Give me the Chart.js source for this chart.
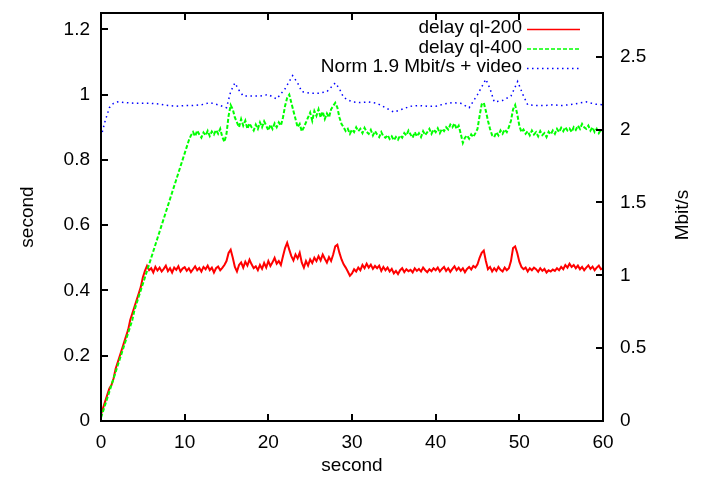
<!DOCTYPE html>
<html>
<head>
<meta charset="utf-8">
<script src="https://cdn.jsdelivr.net/npm/chart.js@4.4.1/dist/chart.umd.min.js"></script>
<style>
  html, body { margin: 0; padding: 0; background: #fff; }
  #wrap { width: 701px; height: 481px; }
</style>
</head>
<body>
<div id="wrap"><canvas id="c" width="701" height="481"></canvas></div>
<script>
// ---- data ----
const sampleStep = 0.25; // seconds between samples of the delay series

const delay200 = [
  0.02,0.04,0.06,0.08,
  0.10,0.11,0.13,0.16,
  0.18,0.20,0.22,0.24,
  0.26,0.28,0.31,0.33,
  0.35,0.37,0.39,0.41,
  0.44,0.46,0.475,0.462,
  0.468,0.455,0.472,0.461,
  0.47,0.458,0.466,0.476,
  0.459,0.468,0.455,0.47,
  0.463,0.474,0.458,0.467,
  0.471,0.46,0.468,0.456,
  0.465,0.474,0.462,0.469,
  0.458,0.472,0.465,0.476,
  0.462,0.47,0.455,0.468,
  0.473,0.462,0.469,0.478,
  0.49,0.515,0.525,0.5,
  0.472,0.458,0.478,0.486,
  0.47,0.488,0.476,0.494,
  0.48,0.468,0.474,0.462,
  0.478,0.466,0.484,0.47,
  0.49,0.475,0.486,0.5,
  0.482,0.49,0.478,0.505,
  0.53,0.546,0.525,0.505,
  0.492,0.51,0.498,0.515,
  0.485,0.47,0.49,0.476,
  0.495,0.484,0.5,0.49,
  0.505,0.492,0.51,0.497,
  0.485,0.502,0.49,0.51,
  0.535,0.54,0.515,0.495,
  0.48,0.47,0.458,0.445,
  0.452,0.465,0.458,0.47,
  0.462,0.478,0.468,0.482,
  0.47,0.479,0.466,0.475,
  0.468,0.476,0.46,0.472,
  0.462,0.47,0.458,0.466,
  0.452,0.46,0.45,0.462,
  0.468,0.456,0.465,0.459,
  0.463,0.455,0.468,0.46,
  0.466,0.458,0.47,0.462,
  0.456,0.465,0.459,0.468,
  0.462,0.47,0.458,0.466,
  0.472,0.46,0.468,0.457,
  0.466,0.474,0.462,0.47,
  0.46,0.468,0.456,0.466,
  0.472,0.464,0.475,0.47,
  0.48,0.5,0.515,0.522,
  0.49,0.465,0.472,0.458,
  0.468,0.46,0.472,0.463,
  0.458,0.47,0.462,0.468,
  0.49,0.53,0.535,0.515,
  0.488,0.472,0.465,0.47,
  0.458,0.468,0.462,0.47,
  0.465,0.457,0.468,0.46,
  0.466,0.455,0.462,0.458,
  0.464,0.46,0.468,0.462,
  0.472,0.465,0.478,0.47,
  0.482,0.472,0.478,0.468,
  0.476,0.465,0.472,0.462,
  0.47,0.477,0.466,0.473,
  0.462,0.47,0.476,0.465,
  0.468
];

const delay400 = [
  0.01,0.03,0.05,0.07,
  0.09,0.11,0.13,0.15,
  0.17,0.19,0.21,0.23,
  0.25,0.27,0.29,0.31,
  0.34,0.36,0.38,0.40,
  0.42,0.44,0.46,0.48,
  0.50,0.52,0.54,0.56,
  0.58,0.60,0.62,0.64,
  0.66,0.68,0.70,0.72,
  0.74,0.76,0.78,0.80,
  0.82,0.84,0.86,0.875,
  0.885,0.872,0.89,0.878,
  0.868,0.884,0.875,0.889,
  0.873,0.887,0.878,0.892,
  0.88,0.895,0.87,0.855,
  0.88,0.935,0.968,0.955,
  0.93,0.915,0.9,0.925,
  0.905,0.92,0.895,0.912,
  0.9,0.89,0.908,0.895,
  0.915,0.9,0.918,0.905,
  0.89,0.908,0.895,0.912,
  0.9,0.915,0.905,0.93,
  0.965,0.99,1.0,0.975,
  0.95,0.925,0.9,0.91,
  0.887,0.9,0.915,0.93,
  0.945,0.92,0.95,0.935,
  0.955,0.93,0.948,0.925,
  0.942,0.93,0.955,0.965,
  0.975,0.96,0.93,0.91,
  0.9,0.888,0.895,0.88,
  0.893,0.885,0.9,0.888,
  0.895,0.882,0.898,0.886,
  0.88,0.892,0.875,0.888,
  0.878,0.87,0.885,0.872,
  0.868,0.876,0.864,0.872,
  0.86,0.87,0.862,0.875,
  0.868,0.882,0.875,0.89,
  0.878,0.868,0.885,0.872,
  0.882,0.87,0.888,0.876,
  0.885,0.895,0.88,0.893,
  0.885,0.897,0.882,0.895,
  0.888,0.9,0.893,0.908,
  0.9,0.912,0.895,0.905,
  0.88,0.852,0.868,0.875,
  0.865,0.878,0.87,0.882,
  0.895,0.935,0.97,0.975,
  0.95,0.92,0.895,0.875,
  0.87,0.885,0.875,0.89,
  0.88,0.893,0.885,0.9,
  0.92,0.955,0.968,0.94,
  0.905,0.885,0.893,0.88,
  0.888,0.875,0.89,0.878,
  0.885,0.872,0.888,0.876,
  0.882,0.87,0.886,0.878,
  0.89,0.88,0.895,0.885,
  0.898,0.888,0.9,0.89,
  0.896,0.885,0.9,0.892,
  0.905,0.895,0.91,0.9,
  0.895,0.905,0.89,0.9,
  0.885,0.895,0.882,0.892,
  0.887
];

const rateTimes = [0,0.5,1,1.5,2,3,4,5,6,7,8,9,10,11,12,13,14,15,15.5,16,16.5,17,18,19,20,21,22,22.9,23.5,24,25,26,27,28,28.5,29,30,31,32,33,34,35,36,37,38,39,40,41,42,43,44,45,46,46.5,47,48,49,49.8,50.5,51,52,53,54,55,56,57,58,59,60];
const rateValues = [1.95,2.06,2.15,2.18,2.19,2.185,2.18,2.18,2.18,2.175,2.165,2.16,2.165,2.165,2.17,2.185,2.17,2.15,2.26,2.32,2.27,2.23,2.23,2.23,2.24,2.21,2.28,2.37,2.32,2.26,2.25,2.25,2.26,2.32,2.28,2.22,2.19,2.185,2.19,2.18,2.15,2.12,2.14,2.16,2.165,2.16,2.16,2.175,2.185,2.18,2.15,2.24,2.345,2.28,2.19,2.2,2.23,2.33,2.23,2.17,2.165,2.165,2.17,2.165,2.17,2.18,2.19,2.175,2.17];

const seriesNames = ['delay ql-200', 'delay ql-400', 'Norm 1.9 Mbit/s + video'];
const xTicks = [0, 10, 20, 30, 40, 50, 60];
const yTicks = [0, 0.2, 0.4, 0.6, 0.8, 1, 1.2];
const y2Ticks = [0, 0.5, 1, 1.5, 2, 2.5];
const xTitle = 'second';
const yTitle = 'second';
const y2Title = 'Mbit/s';

// ---- build chart ----
const FONT = '"Liberation Sans", Arial, Helvetica, sans-serif';
const FS = 19;
Chart.defaults.color = '#000';
Chart.defaults.font.family = FONT;
Chart.defaults.font.size = FS;

const pts200 = delay200.map((v, i) => ({x: i * sampleStep, y: v}));
const pts400 = delay400.map((v, i) => ({x: i * sampleStep, y: v}));
const ptsRate = rateTimes.map((t, i) => ({x: t, y: rateValues[i]}));

const fixTicks = arr => scale => { scale.ticks = arr.map(v => ({value: v})); };
const fitBox = (w, h) => s => {
  if (w !== null) s.width = w;
  if (h !== null) s.height = h;
  s.paddingTop = 0; s.paddingBottom = 0; s.paddingLeft = 0; s.paddingRight = 0;
};

const framePlugin = {
  id: 'frameAndLegend',
  afterDatasetsDraw(chart) {
    const {ctx, chartArea: a, scales} = chart;
    ctx.save();
    ctx.strokeStyle = '#000';
    ctx.lineWidth = 2;
    ctx.setLineDash([]);
    ctx.strokeRect(a.left, a.top, a.right - a.left, a.bottom - a.top);
    const L = 7;
    ctx.beginPath();
    scales.x.ticks.forEach(t => {
      const px = Math.round(scales.x.getPixelForValue(t.value));
      ctx.moveTo(px, a.bottom); ctx.lineTo(px, a.bottom - L);
      ctx.moveTo(px, a.top); ctx.lineTo(px, a.top + L);
    });
    scales.y.ticks.forEach(t => {
      const py = Math.round(scales.y.getPixelForValue(t.value));
      ctx.moveTo(a.left, py); ctx.lineTo(a.left + L, py);
    });
    scales.y2.ticks.forEach(t => {
      const py = Math.round(scales.y2.getPixelForValue(t.value));
      ctx.moveTo(a.right, py); ctx.lineTo(a.right - L, py);
    });
    ctx.stroke();

    // key (legend) in gnuplot style: text right-aligned, sample to the right
    const ds = chart.data.datasets;
    const textRight = 522, s0 = 527, s1 = 580;
    const rows = [29, 48.5, 68];
    ctx.font = FS + 'px ' + FONT;
    ctx.textAlign = 'right';
    ctx.textBaseline = 'middle';
    ds.forEach((d, i) => {
      ctx.fillStyle = '#000';
      ctx.fillText(d.label, textRight, rows[i] - 1);
      ctx.strokeStyle = d.borderColor;
      ctx.lineWidth = d.legendWidth;
      ctx.setLineDash(d.borderDash || []);
      ctx.beginPath();
      ctx.moveTo(s0, rows[i] + 0.5);
      ctx.lineTo(s1, rows[i] + 0.5);
      ctx.stroke();
    });

    // right axis title, reading bottom-to-top like the left one
    ctx.setLineDash([]);
    ctx.fillStyle = '#000';
    ctx.translate(683, (a.top + a.bottom) / 2 - 2);
    ctx.rotate(-Math.PI / 2);
    ctx.textAlign = 'center';
    ctx.textBaseline = 'middle';
    ctx.fillText(y2Title, 0, 0);
    ctx.restore();
  }
};

new Chart(document.getElementById('c'), {
  type: 'line',
  data: {
    datasets: [
      { label: seriesNames[0], data: pts200, yAxisID: 'y', borderColor: '#ff0000', borderWidth: 2, legendWidth: 1.5, order: 3 },
      { label: seriesNames[1], data: pts400, yAxisID: 'y', borderColor: '#00ff00', borderWidth: 2, borderDash: [4, 2], legendWidth: 1.5, order: 2 },
      { label: seriesNames[2], data: ptsRate, yAxisID: 'y2', borderColor: '#0000ff', borderWidth: 1.5, borderDash: [1.5, 3.5], legendWidth: 1.5, order: 1 }
    ]
  },
  options: {
    responsive: false,
    animation: false,
    devicePixelRatio: 1,
    layout: { padding: { top: 13, left: 0, right: 0, bottom: 0 } },
    elements: { point: { radius: 0 }, line: { tension: 0, fill: false } },
    plugins: { legend: { display: false }, tooltip: { enabled: false } },
    scales: {
      x: {
        type: 'linear', min: 0, max: 60,
        afterBuildTicks: fixTicks(xTicks),
        afterFit: fitBox(null, 60),
        grid: { display: false, drawTicks: false },
        border: { display: false },
        ticks: { padding: 10, callback: v => String(v), maxRotation: 0, autoSkip: false },
        title: { display: true, text: xTitle, padding: { top: 0, bottom: 4 } }
      },
      y: {
        type: 'linear', position: 'left', min: 0, max: 1.25,
        afterBuildTicks: fixTicks(yTicks),
        afterFit: fitBox(101, null),
        grid: { display: false, drawTicks: false },
        border: { display: false },
        ticks: { padding: 11, callback: v => String(v), autoSkip: false },
        title: { display: true, text: yTitle, padding: { top: 16, bottom: 0 } }
      },
      y2: {
        type: 'linear', position: 'right', min: 0, max: 2.8,
        afterBuildTicks: fixTicks(y2Ticks),
        afterFit: fitBox(98, null),
        grid: { display: false, drawTicks: false },
        border: { display: false },
        ticks: { padding: 17, callback: v => String(v), autoSkip: false },
        title: { display: false, text: y2Title }
      }
    }
  },
  plugins: [framePlugin]
});
</script>
</body>
</html>
